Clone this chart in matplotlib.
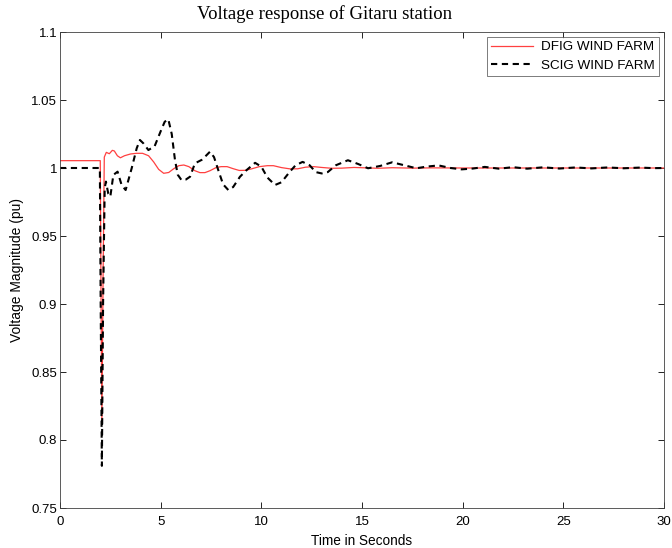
import numpy as np
import matplotlib
matplotlib.use("Agg")
import matplotlib.pyplot as plt
from matplotlib.ticker import FuncFormatter

# DFIG wind farm voltage (pu)
t_dfig = [0, 2.0, 2.04, 2.08, 2.14, 2.2, 2.3, 2.45, 2.6, 2.7, 2.85, 3.0, 3.2, 3.5,
          3.8, 4.1, 4.4, 4.65, 4.9, 5.15, 5.4, 5.65, 5.9, 6.15, 6.4, 6.7, 6.95,
          7.2, 7.45, 7.75, 8.0, 8.3, 8.6, 8.9, 9.2, 9.5, 9.9, 10.3, 10.6, 11.0,
          11.4, 11.8, 12.2, 12.6, 13.0, 13.5, 14.0, 14.6, 15.2, 15.8, 16.5,
          17.5, 18.5, 20, 30]
v_dfig = [1.0054, 1.0054, 0.90, 0.812, 0.92, 1.008, 1.0115, 1.0105, 1.013, 1.0125,
          1.009, 1.0075, 1.009, 1.0103, 1.0108, 1.0108, 1.009, 1.0045, 0.999,
          0.9961, 0.9967, 0.9995, 1.0017, 1.0022, 1.001, 0.998, 0.9966, 0.9966,
          0.998, 1.0003, 1.001, 1.001, 0.9995, 0.9982, 0.9983, 0.9993, 1.001,
          1.0017, 1.0017, 1.0003, 0.9994, 0.9994, 1.0006, 1.001, 1.0004, 0.9998,
          0.9999, 1.0004, 1.0001, 0.9998, 1.0002, 0.9999, 1.0001, 1.0, 1.0]

# SCIG wind farm voltage (pu)
t_scig = [0, 1.98, 2.02, 2.08, 2.14, 2.22, 2.28, 2.4, 2.5, 2.65, 2.86, 3.06, 3.26,
          3.56, 3.81, 3.97, 4.15, 4.39, 4.7, 5.0, 5.2, 5.38, 5.55, 5.71, 5.85,
          6.04, 6.25, 6.46, 6.7, 7.04, 7.25, 7.45, 7.65, 7.86, 8.1, 8.36, 8.6,
          8.94, 9.27, 9.69, 10.0, 10.3, 10.68, 11.0, 11.4, 11.7, 12.05, 12.4,
          12.7, 13.0, 13.3, 13.7, 14.3, 14.8, 15.3, 15.9, 16.5, 17.1, 17.7, 18.2,
          18.8, 19.4, 19.95, 20.5, 21.1, 21.8, 22.5, 23.2, 24.0, 24.8, 25.6,
          26.4, 27.2, 28.0, 28.8, 29.5, 30]
v_scig = [1.0, 1.0, 0.90, 0.781, 0.90, 0.985, 0.99, 0.981, 0.979, 0.9949, 0.9973,
          0.9875, 0.9838, 0.9998, 1.0145, 1.0206, 1.018, 1.0132, 1.016, 1.027,
          1.034, 1.0358, 1.025, 1.006, 0.995, 0.991, 0.9915, 0.9936, 1.0034,
          1.006, 1.009, 1.012, 1.008, 0.9985, 0.988, 0.9838, 0.986, 0.9936,
          0.9985, 1.0038, 1.001, 0.993, 0.9875, 0.9895, 0.997, 1.002, 1.0045,
          1.002, 0.997, 0.996, 0.997, 1.002, 1.0057, 1.003, 0.9998, 1.0015,
          1.0042, 1.002, 0.9998, 1.001, 1.0019, 1.0, 0.999, 0.9996, 1.0008,
          0.9995, 1.0006, 0.9995, 1.0005, 0.9996, 1.0004, 0.9997, 1.0004, 0.9998,
          1.0003, 0.9999, 1.0]

x_ticks = [0, 5, 10, 15, 20, 25, 30]
y_ticks = [0.75, 0.8, 0.85, 0.9, 0.95, 1.0, 1.05, 1.1]

plt.rcParams['font.family'] = ['Liberation Sans', 'DejaVu Sans']

fig = plt.figure(figsize=(6.72, 5.48), dpi=100)
ax = fig.add_axes([60 / 672, 1 - 508 / 548, 604 / 672, 476 / 548])

ax.plot(t_dfig, v_dfig, color='#ff4040', lw=0.9, label='DFIG WIND FARM')
ax.plot(t_scig, v_scig, color='black', lw=1.5, ls=(0, (3, 2.2)), label='SCIG WIND FARM')

ax.set_xlim(0, 30)
ax.set_ylim(0.75, 1.1)
ax.set_xticks(x_ticks)
ax.set_yticks(y_ticks)
ax.yaxis.set_major_formatter(FuncFormatter(lambda v, p: '%g' % v))
ax.tick_params(direction='in', top=True, right=True, labelsize=9.5, length=4,
               width=0.6, pad=2)
ax.tick_params(axis='x', pad=6)
for s in ax.spines.values():
    s.set_linewidth(0.6)
    s.set_color('#404040')

ax.set_xlabel('Time in Seconds', fontsize=9.8, labelpad=4)
ax.set_ylabel('Voltage Magnitude (pu)', fontsize=10, labelpad=5)
fig.text(325 / 672, 1 - 14 / 548, 'Voltage response of Gitaru station', fontsize=13.5,
         family=['Liberation Serif', 'DejaVu Serif'], ha='center', va='center')

leg = ax.legend(loc='upper right', fontsize=9.7, frameon=True, fancybox=False,
                borderpad=0.3, handlelength=3.1, handletextpad=0.6, labelspacing=0.45,
                borderaxespad=0, bbox_to_anchor=((659 - 60) / 604, 1 - 5 / 476))
leg.get_frame().set_edgecolor('#404040')
leg.get_frame().set_linewidth(0.6)

fig.savefig('out.png', dpi=100)
